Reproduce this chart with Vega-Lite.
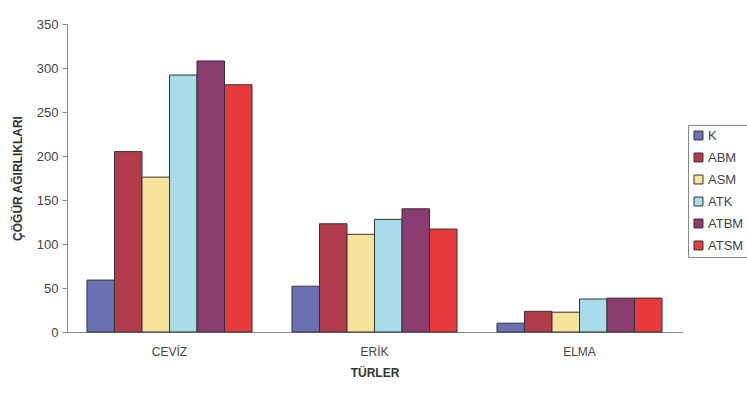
{
  "$schema": "https://vega.github.io/schema/vega-lite/v6.json",
  "width": 615,
  "height": 308,
  "autosize": {"type": "none"},
  "padding": {"left": 67, "top": 24, "right": 65, "bottom": 69},
  "background": "white",
  "config": {
    "view": {"stroke": null},
    "font": "Liberation Sans",
    "axis": {"labelFont": "Liberation Sans", "titleFont": "Liberation Sans", "labelColor": "#444", "titleColor": "#333", "domainColor": "#888", "tickColor": "#888"}
  },
  "data": {
    "values": [
      {"tur": "CEVİZ", "grup": "K", "deger": 59},
      {"tur": "CEVİZ", "grup": "ABM", "deger": 205},
      {"tur": "CEVİZ", "grup": "ASM", "deger": 176},
      {"tur": "CEVİZ", "grup": "ATK", "deger": 292},
      {"tur": "CEVİZ", "grup": "ATBM", "deger": 308},
      {"tur": "CEVİZ", "grup": "ATSM", "deger": 281},
      {"tur": "ERİK", "grup": "K", "deger": 52},
      {"tur": "ERİK", "grup": "ABM", "deger": 123},
      {"tur": "ERİK", "grup": "ASM", "deger": 111},
      {"tur": "ERİK", "grup": "ATK", "deger": 128},
      {"tur": "ERİK", "grup": "ATBM", "deger": 140},
      {"tur": "ERİK", "grup": "ATSM", "deger": 117},
      {"tur": "ELMA", "grup": "K", "deger": 10},
      {"tur": "ELMA", "grup": "ABM", "deger": 23.5},
      {"tur": "ELMA", "grup": "ASM", "deger": 22.5},
      {"tur": "ELMA", "grup": "ATK", "deger": 37.5},
      {"tur": "ELMA", "grup": "ATBM", "deger": 38.5},
      {"tur": "ELMA", "grup": "ATSM", "deger": 38.5}
    ]
  },
  "mark": {"type": "bar", "stroke": "#333", "strokeWidth": 1},
  "encoding": {
    "x": {
      "field": "tur", "type": "nominal", "sort": ["CEVİZ", "ERİK", "ELMA"],
      "scale": {"paddingInner": 0.195, "paddingOuter": 0.0975},
      "axis": {"title": "TÜRLER", "labelAngle": 0, "labelFontSize": 12, "labelPadding": 14, "ticks": false, "titleFontSize": 12, "titleFontWeight": "bold", "titlePadding": 10}
    },
    "xOffset": {"field": "grup", "type": "nominal", "sort": ["K", "ABM", "ASM", "ATK", "ATBM", "ATSM"], "scale": {"paddingInner": 0, "paddingOuter": 0}},
    "y": {
      "field": "deger", "type": "quantitative",
      "scale": {"domain": [0, 350], "nice": false},
      "axis": {"title": "ÇÖĞÜR AĞIRLIKLARI", "values": [0, 50, 100, 150, 200, 250, 300, 350], "grid": false, "labelFontSize": 13, "tickSize": 5, "labelPadding": 4, "titleFontSize": 12, "titleFontWeight": "bold", "titlePadding": 12}
    },
    "color": {
      "field": "grup", "type": "nominal", "sort": ["K", "ABM", "ASM", "ATK", "ATBM", "ATSM"],
      "scale": {"domain": ["K", "ABM", "ASM", "ATK", "ATBM", "ATSM"], "range": ["#6a70b4", "#b23c4c", "#f6e49c", "#a9dcea", "#8a3b70", "#e8393c"]},
      "legend": {"title": null, "orient": "none", "legendX": 621, "legendY": 101, "symbolType": "square", "symbolSize": 80, "symbolStrokeColor": "#333", "symbolStrokeWidth": 1, "labelFontSize": 13, "labelOffset": 3, "labelColor": "#444", "strokeColor": "#888", "padding": 4, "rowPadding": 8, "fillColor": "white"}
    }
  }
}
